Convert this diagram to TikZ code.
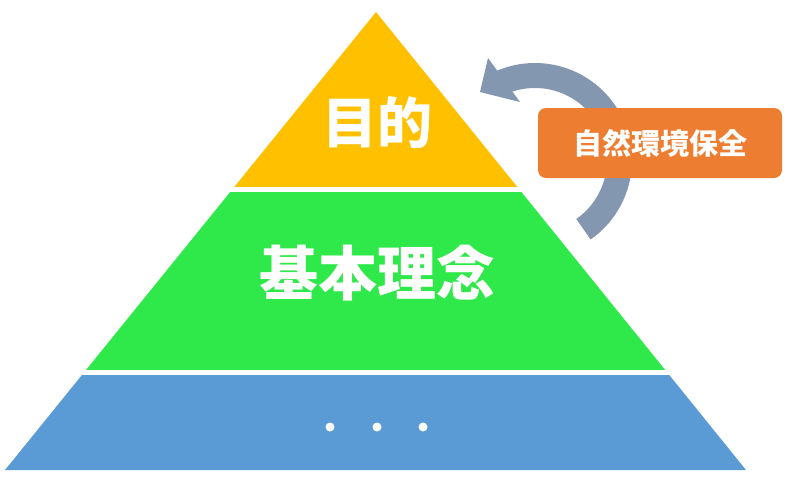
\documentclass[tikz,border=0pt]{standalone}
\usepackage{fontspec}
\newfontfamily\cjk{Noto Sans CJK JP}
\usetikzlibrary{calc}
\definecolor{tyellow}{HTML}{FFC000}
\definecolor{tgreen}{HTML}{2FE84A}
\definecolor{tblue}{HTML}{5B9BD5}
\definecolor{tarrow}{HTML}{8497B0}
\definecolor{torange}{HTML}{ED7D31}
\tikzset{
  bandlabel/.style={text=white, font=\cjk\bfseries, inner sep=0pt},
  goalbox/.style={fill=torange, rounded corners=8pt, minimum width=244pt, minimum height=70pt, inner sep=0pt, text=white, font=\cjk\bfseries\fontsize{29}{32}\selectfont},
  dotc/.style={circle, fill=white, minimum size=9pt, inner sep=0pt}
}
\begin{document}
\begin{tikzpicture}[x=1pt,y=-1pt]
\useasboundingbox (0,0) rectangle (789,493);
% pyramid bands
\begin{scope}
  \clip (376,12) -- (746,470) -- (5,470) -- cycle;
  \fill[tyellow] (0,0) rectangle (789,187);
  \fill[tgreen] (0,192) rectangle (789,370);
  \fill[tblue] (0,375) rectangle (789,480);
\end{scope}
\node[bandlabel, font=\cjk\bfseries\fontsize{55}{60}\selectfont] (goal) at (377,123) {目的};
\node[bandlabel, font=\cjk\bfseries\fontsize{59}{64}\selectfont] (principle) at (377,273) {基本理念};
\node[dotc] (d1) at (330,427) {};
\node[dotc] (d2) at (377,427) {};
\node[dotc] (d3) at (423,427) {};
% cycle arrow
\coordinate (C) at (535,160);
\fill[tarrow] ($(C)+(55:97)$) arc[start angle=55, end angle=-114, radius=97]
  -- ($(C)+(-114:72)$) arc[start angle=-114, end angle=55, radius=72] -- cycle;
\fill[tarrow] (480,92) -- (488,58) -- (520,102) -- cycle;
% box
\node[goalbox] (env) at (660,143) {自然環境保全};
\end{tikzpicture}
\end{document}
